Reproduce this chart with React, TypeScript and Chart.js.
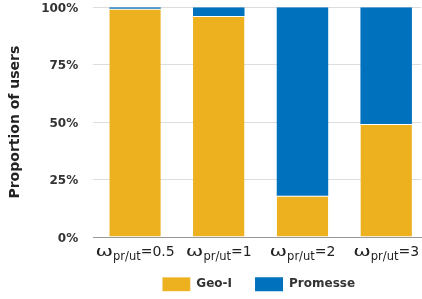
import React, { useEffect, useRef } from 'react';
import { Chart, registerables } from 'chart.js';

Chart.register(...registerables);

const categories = ['0.5', '1', '2', '3'];
const geoI = [99.3, 96.2, 17.9, 49.2];
const promesse = [0.7, 3.8, 82.1, 50.8];
const seriesNames = ['Geo-I', 'Promesse'];
const yTickValues = [0, 25, 50, 75, 100];
const yTitle = 'Proportion of users';

const YELLOW = '#EDB120';
const BLUE = '#0072BD';

const omegaLabels = {
  id: 'omegaLabels',
  afterDraw(chart: any) {
    const ctx = chart.ctx as CanvasRenderingContext2D;
    const xs = chart.scales.x;
    const baseY = chart.chartArea.bottom + 19.3;
    ctx.save();
    ctx.fillStyle = '#222';
    ctx.textBaseline = 'alphabetic';
    ctx.textAlign = 'left';
    const mainFont = '14px "DejaVu Sans"';
    const subFont = '11.5px "DejaVu Sans"';
    const omegaStretch = 1.5;
    categories.forEach((c, i) => {
      const cx = xs.getPixelForValue(i);
      const parts = [
        { t: '\u03c9', f: mainFont, dy: 0, sx: omegaStretch },
        { t: 'pr/ut', f: subFont, dy: 4, sx: 1 },
        { t: '=' + c, f: mainFont, dy: 0, sx: 1 },
      ];
      let total = 0;
      const widths = parts.map((p) => {
        ctx.font = p.f;
        const w = ctx.measureText(p.t).width * p.sx;
        total += w;
        return w;
      });
      let x = cx - total / 2;
      parts.forEach((p, k) => {
        ctx.font = p.f;
        ctx.save();
        ctx.translate(x, baseY + p.dy);
        ctx.scale(p.sx, 1);
        ctx.fillText(p.t, 0, 0);
        ctx.restore();
        x += widths[k];
      });
    });
    ctx.restore();
  },
};

const legendShift = {
  id: 'legendShift',
  afterLayout(chart: any) {
    const lg = chart.legend;
    if (!lg) return;
    const dx = 258.7 - (lg.left + lg.right) / 2;
    const dy = 254.3 - lg.top;
    lg.left += dx;
    lg.right += dx;
    lg.top += dy;
    lg.bottom += dy;
  },
};

export default function App() {
  const ref = useRef<HTMLCanvasElement | null>(null);
  useEffect(() => {
    if (!ref.current) return;
    const chart = new Chart(ref.current, {
      type: 'bar',
      data: {
        datasets: [
          {
            label: seriesNames[0],
            data: geoI.map((y, i) => ({ x: i, y })),
            backgroundColor: YELLOW,
            borderColor: 'rgba(255,255,255,0.95)',
            borderWidth: { top: 1, left: 0, right: 0, bottom: 0 },
            borderSkipped: false,
            categoryPercentage: 1,
            barPercentage: 0.615,
          },
          {
            label: seriesNames[1],
            data: promesse.map((y, i) => ({ x: i, y })),
            backgroundColor: BLUE,
            borderWidth: 0,
            categoryPercentage: 1,
            barPercentage: 0.615,
          },
        ],
      },
      options: {
        animation: false,
        responsive: true,
        maintainAspectRatio: false,
        layout: { padding: { top: 7, right: 1, left: 0, bottom: 0 } },
        scales: {
          x: {
            type: 'linear',
            stacked: true,
            min: -0.5,
            max: 3.416,
            offset: false,
            grid: { display: false },
            border: { display: true, color: '#999', width: 1 },
            ticks: { display: false },
            afterBuildTicks(scale: any) {
              scale.ticks = categories.map((_, i) => ({ value: i }));
            },
            afterFit(scale: any) {
              scale.height = 15;
            },
          },
          y: {
            stacked: true,
            min: 0,
            max: 100,
            afterBuildTicks(scale: any) {
              scale.ticks = yTickValues.map((v) => ({ value: v }));
            },
            grid: { color: '#dddddd', drawTicks: true, tickLength: 15, tickColor: 'rgba(0,0,0,0)' },
            border: { display: false },
            ticks: {
              padding: 0,
              labelOffset: 1.5,
              color: '#333',
              font: { family: 'DejaVu Sans', size: 12, weight: 'bold' },
              callback: (v: any) => v + '%',
            },
            title: {
              display: true,
              text: yTitle,
              color: '#222',
              font: { family: 'DejaVu Sans', size: 14, weight: 'bold' },
              padding: { top: 7.4, bottom: 0 },
            },
            afterFit(scale: any) {
              scale.width = 93.2;
            },
          },
        },
        plugins: {
          legend: {
            position: 'bottom',
            labels: {
              boxWidth: 28,
              boxHeight: 14,
              padding: 23,
              color: '#333',
              font: { family: 'DejaVu Sans', size: 12, weight: 'bold' },
            },
          },
          tooltip: { enabled: false },
        },
      },
      plugins: [omegaLabels, legendShift],
    } as any);
    return () => chart.destroy();
  }, []);
  return (
    <div style={{ position: 'absolute', left: 0, top: 0, width: 422, height: 299 }}>
      <canvas ref={ref} />
    </div>
  );
}
